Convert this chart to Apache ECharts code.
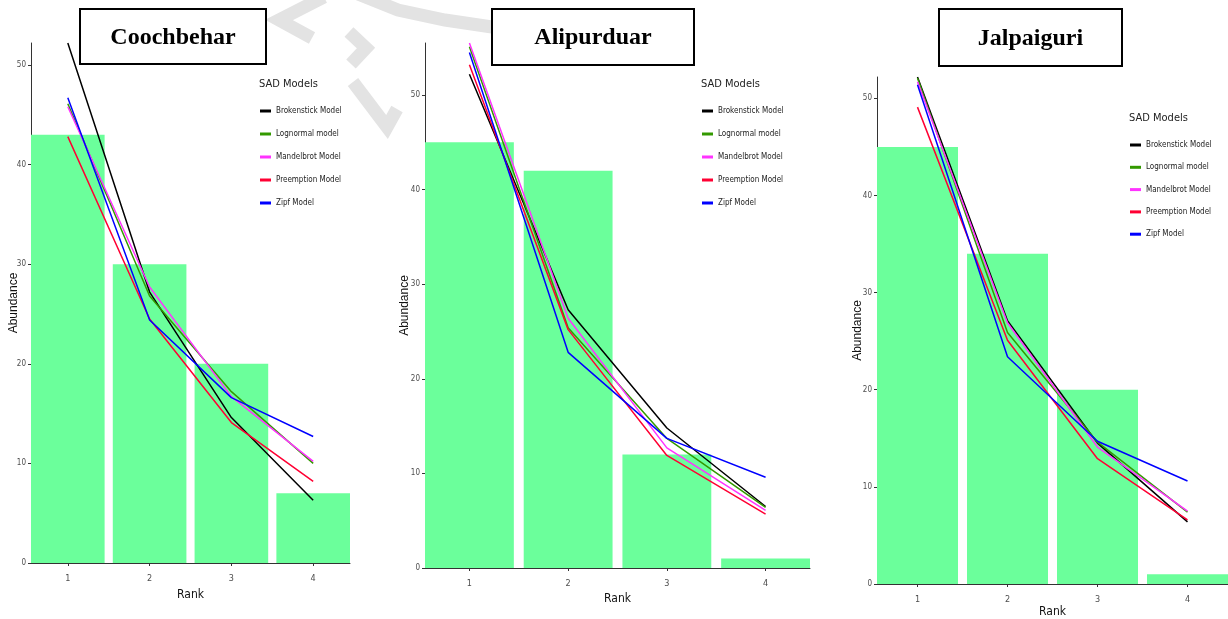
<!DOCTYPE html>
<html>
<head>
<meta charset="utf-8">
<script src="https://cdn.jsdelivr.net/npm/echarts@6/dist/echarts.min.js"></script>
<style>
html,body{margin:0;padding:0;background:#fff;}
#chart{width:1228px;height:619px;}
</style>
</head>
<body>
<div id="chart"></div>
<script>
// ---- data ----
const ranks = [1, 2, 3, 4];
const yTicks = [0, 10, 20, 30, 40, 50];
const regions = ['Coochbehar', 'Alipurduar', 'Jalpaiguri'];
const modelNames = ['Brokenstick Model', 'Lognormal model', 'Mandelbrot Model', 'Preemption Model', 'Zipf Model'];

const coochObserved    = [43, 30, 20, 7];
const coochBrokenstick = [52.2, 27.2, 14.6, 6.3];
const coochLognormal   = [46.1, 26.8, 17.2, 10.0];
const coochMandelbrot  = [45.8, 27.7, 16.7, 10.2];
const coochPreemption  = [42.8, 24.5, 14.1, 8.2];
const coochZipf        = [46.7, 24.4, 16.6, 12.7];

const alipObserved    = [45, 42, 12, 1];
const alipBrokenstick = [52.2, 27.3, 14.8, 6.5];
const alipLognormal   = [55.1, 25.4, 13.7, 6.4];
const alipMandelbrot  = [55.5, 26.4, 12.7, 6.1];
const alipPreemption  = [53.2, 25.2, 11.9, 5.7];
const alipZipf        = [54.5, 22.8, 13.7, 9.6];

const jalpObserved    = [45, 34, 20, 1];
const jalpBrokenstick = [52.2, 27.1, 14.5, 6.4];
const jalpLognormal   = [52.1, 25.9, 14.6, 7.4];
const jalpMandelbrot  = [51.7, 26.9, 14.1, 7.5];
const jalpPreemption  = [49.1, 25.1, 12.9, 6.6];
const jalpZipf        = [51.4, 23.4, 14.7, 10.6];

// ---- layout / style ----
const observedSets = [coochObserved, alipObserved, jalpObserved];
const modelSets = [
  [coochBrokenstick, coochLognormal, coochMandelbrot, coochPreemption, coochZipf],
  [alipBrokenstick, alipLognormal, alipMandelbrot, alipPreemption, alipZipf],
  [jalpBrokenstick, jalpLognormal, jalpMandelbrot, jalpPreemption, jalpZipf]
];
const modelColors = ['#000000', '#339900', '#ff33ff', '#ff0033', '#0000ff'];
const barColor = '#6bff9b';
const narrow = "'Liberation Sans Narrow', 'Arial Narrow', 'DejaVu Sans Condensed', sans-serif";

const grids = [
  {left: 31, top: 43, width: 319, height: 520, outerBoundsMode: 'none', containLabel: false},
  {left: 425, top: 43, width: 385, height: 525, outerBoundsMode: 'none', containLabel: false},
  {left: 877, top: 77, width: 351, height: 507, outerBoundsMode: 'none', containLabel: false}
];
const yNameGap = [11, 14, 13];
const xNameGap = [26, 25, 22];
const legendPos = [
  {left: 260, top: 105, gap: 11, titleLeft: 259, titleTop: 79},
  {left: 702, top: 105, gap: 11, titleLeft: 701, titleTop: 79},
  {left: 1130, top: 139, gap: 10.3, titleLeft: 1129, titleTop: 113}
];
const titleBoxes = [
  {x: 80, y: 9, w: 186, h: 55},
  {x: 492, y: 9, w: 202, h: 56},
  {x: 939, y: 9, w: 183, h: 57}
];

const xAxes = [], yAxes = [], series = [], legends = [], titles = [], graphics = [];

// watermark strokes
const wm = [
  [[324, -3], [279, 20], [312, 38]],
  [[358, -6], [398, 10], [445, 20], [492, 27]],
  [[349, 32], [366, 48], [351, 64]],
  [[353, 82], [387, 127], [397, 109]]
];
wm.forEach(p => graphics.push({
  type: 'polyline', z: -10, silent: true,
  shape: {points: p},
  style: {stroke: '#e3e3e3', lineWidth: 13, fill: null, lineJoin: 'miter'}
}));

regions.forEach((reg, g) => {
  const gr = grids[g];
  const allVals = [].concat(...modelSets[g], observedSets[g]);
  const yMax = Math.max(...allVals);
  xAxes.push({
    type: 'value', gridIndex: g, min: 0.55, max: 4.45,
    axisLine: {show: true, lineStyle: {color: '#333', width: 1}},
    axisTick: {show: true, length: 3, customValues: ranks, lineStyle: {color: '#333'}},
    axisLabel: {customValues: ranks, margin: 11, color: '#4d4d4d', fontSize: 9, fontFamily: narrow},
    splitLine: {show: false},
    name: 'Rank', nameLocation: 'middle', nameGap: xNameGap[g], nameMoveOverlap: false,
    nameTextStyle: {color: '#111', fontSize: 12, fontFamily: narrow}
  });
  yAxes.push({
    type: 'value', gridIndex: g, min: 0, max: yMax,
    axisLine: {show: true, lineStyle: {color: '#333', width: 1}},
    axisTick: {show: true, length: 3, customValues: yTicks, lineStyle: {color: '#333'}},
    axisLabel: {customValues: yTicks, margin: 5, color: '#4d4d4d', fontSize: 8, fontFamily: narrow},
    splitLine: {show: false},
    name: 'Abundance', nameLocation: 'middle', nameGap: yNameGap[g], nameMoveOverlap: false,
    nameTextStyle: {color: '#111', fontSize: 12, fontFamily: "'Liberation Sans', Arial, sans-serif"}
  });
  series.push({
    type: 'bar', xAxisIndex: g, yAxisIndex: g, name: 'Observed',
    barWidth: 0.9 * gr.width / 3.9,
    itemStyle: {color: barColor},
    data: ranks.map((r, i) => [r, observedSets[g][i]]),
    silent: true
  });
  modelNames.forEach((m, k) => {
    series.push({
      type: 'line', xAxisIndex: g, yAxisIndex: g, name: m,
      symbol: 'none', color: modelColors[k],
      lineStyle: {color: modelColors[k], width: 1.5},
      data: ranks.map((r, i) => [r, modelSets[g][k][i]])
    });
  });
  const lp = legendPos[g];
  legends.push({
    orient: 'vertical', left: lp.left, top: lp.top, padding: 0,
    itemWidth: 11, itemHeight: 3, itemGap: lp.gap, icon: 'rect',
    selectedMode: false, data: modelNames,
    textStyle: {fontSize: 8, fontFamily: narrow, color: '#222', lineHeight: 12}
  });
  titles.push({
    text: 'SAD Models', left: lp.titleLeft, top: lp.titleTop, padding: 0,
    textStyle: {fontSize: 11, fontWeight: 'normal', fontFamily: narrow, color: '#222'}
  });
  const tb = titleBoxes[g];
  graphics.push({
    type: 'rect', z: 50,
    shape: {x: tb.x, y: tb.y, width: tb.w, height: tb.h},
    style: {fill: '#fff', stroke: '#000', lineWidth: 2}
  });
  graphics.push({
    type: 'text', z: 51,
    style: {
      text: reg, x: tb.x + tb.w / 2, y: tb.y + tb.h / 2 + 1,
      textAlign: 'center', textVerticalAlign: 'middle',
      font: "bold 24px 'Liberation Serif', 'Times New Roman', serif", fill: '#000'
    }
  });
});

const chart = echarts.init(document.getElementById('chart'));
chart.setOption({
  backgroundColor: '#ffffff',
  animation: false,
  title: titles,
  legend: legends,
  grid: grids,
  xAxis: xAxes,
  yAxis: yAxes,
  series: series,
  graphic: graphics
});
</script>
</body>
</html>
